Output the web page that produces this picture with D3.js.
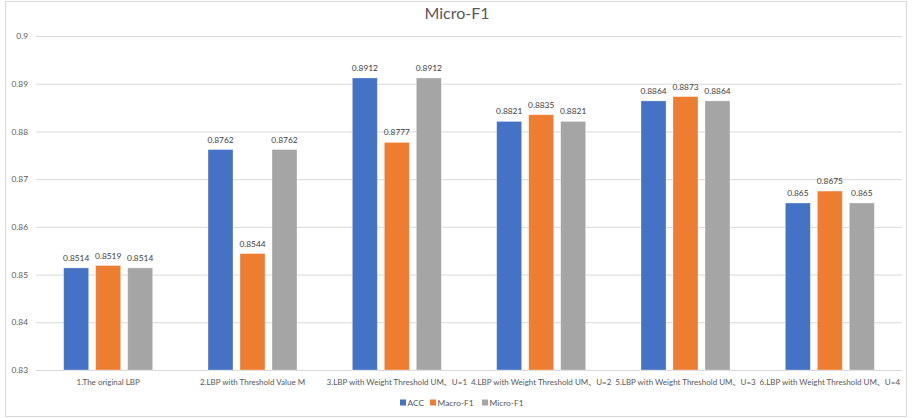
<!DOCTYPE html>
<html>
<head>
<meta charset="utf-8">
<script src="https://cdn.jsdelivr.net/npm/d3@7/dist/d3.min.js"></script>
<style>
  html, body { margin: 0; padding: 0; background: #fff; }
  svg { display: block; }
  text { font-family: Lato, "Open Sans", "Noto Sans CJK SC", sans-serif; }
</style>
</head>
<body>
<svg id="chart" width="912" height="418"></svg>
<script>
const categories = [
  "1.The original LBP",
  "2.LBP with Threshold Value M",
  "3.LBP with Weight Threshold UM、U=1",
  "4.LBP with Weight Threshold UM、U=2",
  "5.LBP with Weight Threshold UM、U=3",
  "6.LBP with Weight Threshold UM、U=4"
];
const seriesNames = ["ACC", "Macro-F1", "Micro-F1"];
const accValues   = [0.8514, 0.8762, 0.8912, 0.8821, 0.8864, 0.865];
const macroValues = [0.8519, 0.8544, 0.8777, 0.8835, 0.8873, 0.8675];
const microValues = [0.8514, 0.8762, 0.8912, 0.8821, 0.8864, 0.865];
const yTicks = [0.83, 0.84, 0.85, 0.86, 0.87, 0.88, 0.89, 0.9];
const colors = ["#4472C4", "#ED7D31", "#A5A5A5"];

const seriesValues = [accValues, macroValues, microValues];
const rows = categories.map((c, i) => ({
  cat: c,
  vals: seriesNames.map((s, j) => ({ key: s, idx: j, value: seriesValues[j][i], color: colors[j] }))
}));

const svg = d3.select("#chart");
const plot = { left: 36, right: 902, top: 36, bottom: 370 };
const fs = 8.4;

// outer frame
svg.append("rect")
  .attr("x", 5.5).attr("y", 1.5).attr("width", 901).attr("height", 415)
  .attr("fill", "none").attr("stroke", "#d9d9d9").attr("stroke-width", 1);

// title
svg.append("text")
  .attr("x", 457).attr("y", 19)
  .attr("text-anchor", "middle")
  .attr("font-size", 16)
  .attr("fill", "#595959")
  .text("Micro-F1");

const x = d3.scaleBand().domain(categories).range([plot.left, plot.right]);
const y = d3.scaleLinear().domain([0.83, 0.9]).range([plot.bottom, plot.top]);
const barW = 25, barStep = 32;
const barX = j => (j - 1) * barStep - barW / 2;

// gridlines + y labels via axis
const yAxis = d3.axisLeft(y).tickValues(yTicks)
  .tickSize(-(plot.right - plot.left))
  .tickFormat(d => String(+d.toFixed(2)));
const gy = svg.append("g").attr("transform", `translate(${plot.left},0)`).call(yAxis);
gy.select(".domain").remove();
gy.selectAll(".tick line").attr("stroke", "#d9d9d9").attr("stroke-width", 1);
gy.selectAll(".tick text")
  .attr("x", -8).attr("fill", "#595959").attr("font-size", fs)
  .style("font-family", "Lato, 'Open Sans', sans-serif");

// bars
const groups = svg.append("g").selectAll("g").data(rows).join("g")
  .attr("transform", d => `translate(${x(d.cat) + x.bandwidth() / 2},0)`);

groups.selectAll("rect").data(d => d.vals).join("rect")
  .attr("x", d => barX(d.idx))
  .attr("width", barW)
  .attr("y", d => y(d.value))
  .attr("height", d => y(0.83) - y(d.value))
  .attr("fill", d => d.color)
  .attr("stroke", "#fff").attr("stroke-opacity", 0.4).attr("stroke-width", 0.8);

groups.selectAll("text").data(d => d.vals).join("text")
  .attr("x", d => barX(d.idx) + barW / 2)
  .attr("y", d => y(d.value) - 7)
  .attr("text-anchor", "middle")
  .attr("font-size", fs)
  .attr("fill", "#404040")
  .text(d => String(d.value));

// category labels (clipped to plot width)
svg.append("clipPath").attr("id", "xclip")
  .append("rect").attr("x", 0).attr("y", 370).attr("width", 904).attr("height", 30);
const xl = svg.append("g").attr("clip-path", "url(#xclip)");
xl.selectAll("text").data(categories).join("text")
  .attr("x", d => x(d) + x.bandwidth() / 2)
  .attr("y", 385)
  .attr("text-anchor", "middle")
  .attr("font-size", 8)
  .attr("fill", "#595959")
  .text(d => d);

// legend
const legendX = [400, 430, 482];
const lg = svg.append("g").selectAll("g").data(seriesNames).join("g")
  .attr("transform", (d, i) => `translate(${legendX[i]},403)`);
lg.append("rect").attr("x", 0).attr("y", -3.5).attr("width", 6).attr("height", 6)
  .attr("fill", (d, i) => colors[i]);
lg.append("text").attr("x", 7.5).attr("y", 2.8)
  .attr("font-size", fs).attr("fill", "#595959").text(d => d);
</script>
</body>
</html>
